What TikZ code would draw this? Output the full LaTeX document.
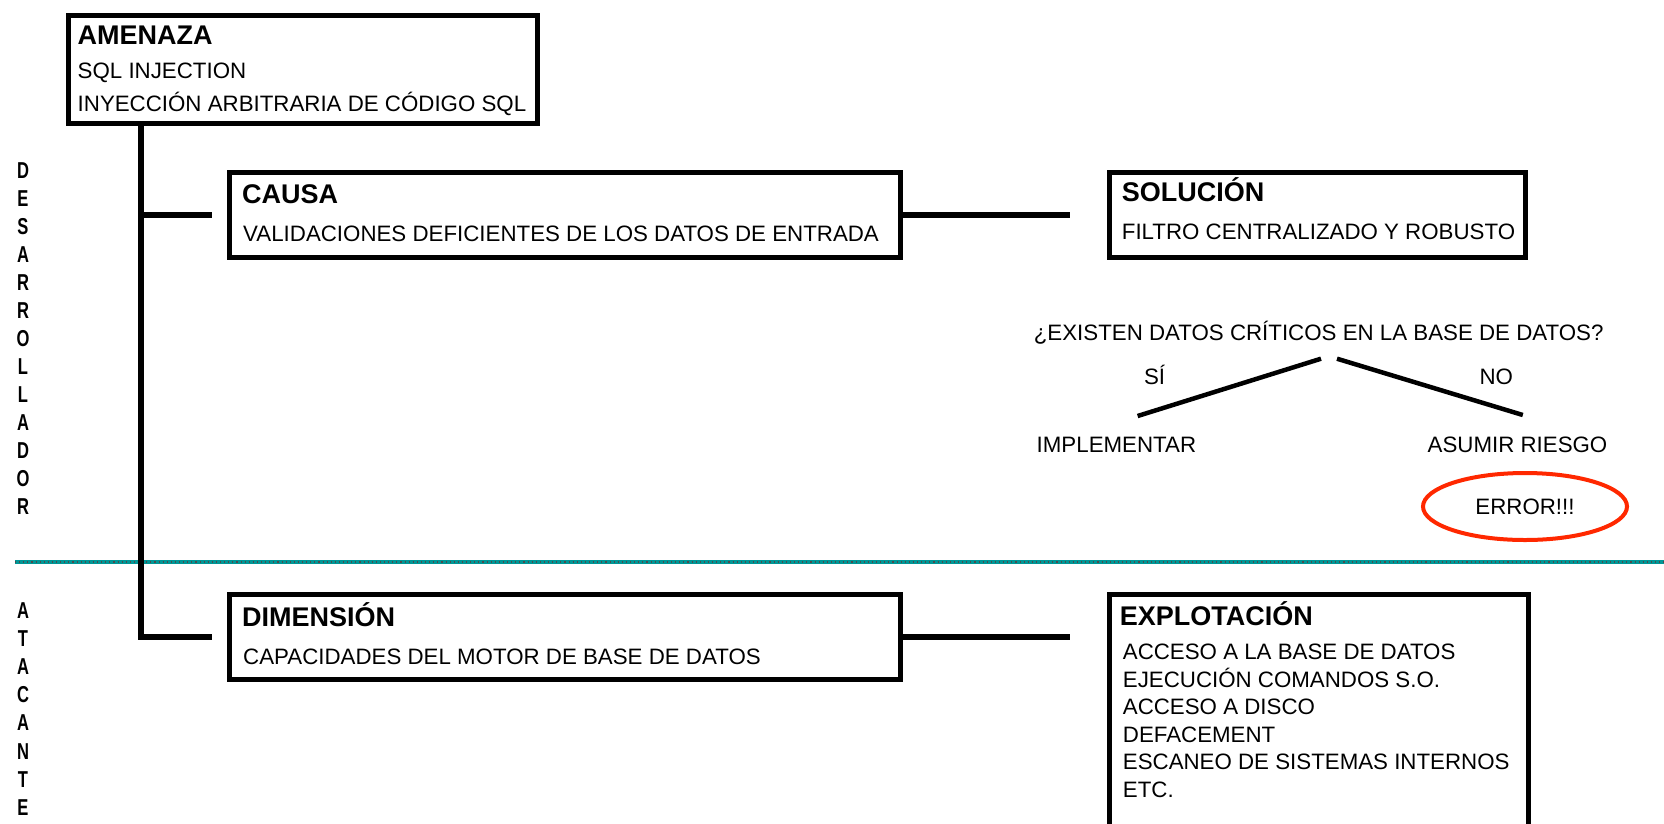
\documentclass[tikz,border=0pt]{standalone}
\usepackage{fontspec}
\setmainfont{Liberation Sans}
\usetikzlibrary{shapes.geometric}
\definecolor{tealline}{RGB}{0,150,150}
\definecolor{errred}{RGB}{255,40,0}
\newcommand{\nrw}[1]{\scalebox{0.72}[1]{#1}}
\begin{document}
\begin{tikzpicture}[x=1pt,y=-1pt,
  box/.style={draw, line width=4.5pt, anchor=north west, inner sep=0pt},
  conn/.style={line width=6.5pt},
  thin/.style={line width=4.5pt},
  ttl/.style={anchor=base west, inner sep=0pt, font=\fontsize{27}{30}\selectfont\bfseries},
  txt/.style={anchor=base west, inner sep=0pt, font=\fontsize{22.3}{26}\selectfont},
  ctxt/.style={anchor=base, inner sep=0pt, font=\fontsize{22.3}{26}\selectfont},
  vlab/.style={align=center, inner sep=0pt, font=\fontsize{23}{28.05}\selectfont\bfseries},
]
\useasboundingbox (0,0) rectangle (1664,823);

% separator
\draw[tealline, line width=3.5pt] (15,562) -- (1664,562);
\draw[black!70, line width=1.1pt, dash pattern=on 1.1pt off 3pt] (15,562) -- (1664,562);

% boxes
\node[box, minimum width=469pt, minimum height=108pt] (amenaza) at (66,13) {};
\node[box, minimum width=671pt, minimum height=85pt] (causa) at (227,170) {};
\node[box, minimum width=416pt, minimum height=85pt] (solucion) at (1107,170) {};
\node[box, minimum width=671pt, minimum height=85pt] (dimension) at (227,592) {};
\node[box, minimum width=419pt, minimum height=250pt] (explotacion) at (1107,592) {};

% box texts
\node[ttl] (t1) at (77.5,44.5) {AMENAZA};
\node[txt] (t2) at (77.5,78) {SQL INJECTION};
\node[txt] (t3) at (77.5,111) {INYECCIÓN ARBITRARIA DE CÓDIGO SQL};

\node[ttl] (t4) at (242,203.7) {CAUSA};
\node[txt] (t5) at (243,241.3) {VALIDACIONES DEFICIENTES DE LOS DATOS DE ENTRADA};

\node[ttl] (t6) at (1121.7,201.7) {SOLUCIÓN};
\node[txt] (t7) at (1121.7,239) {FILTRO CENTRALIZADO Y ROBUSTO};

\node[ttl] (t8) at (242,626) {DIMENSIÓN};
\node[txt] (t9) at (243,664.7) {CAPACIDADES DEL MOTOR DE BASE DE DATOS};

\node[ttl] (t10) at (1119.6,625) {EXPLOTACIÓN};
\node[txt] (e1) at (1122.7,659.4) {ACCESO A LA BASE DE DATOS};
\node[txt] (e2) at (1122.7,687) {EJECUCIÓN COMANDOS S.O.};
\node[txt] (e3) at (1122.7,714.6) {ACCESO A DISCO};
\node[txt] (e4) at (1122.7,742.2) {DEFACEMENT};
\node[txt] (e5) at (1122.7,769.8) {ESCANEO DE SISTEMAS INTERNOS};
\node[txt] (e6) at (1122.7,797.4) {ETC.};

% connectors
\coordinate (tk) at (141,121);
\draw[conn] (tk) |- ([xshift=-15pt]dimension.west);
\draw[conn] (tk |- causa.west) -- ([xshift=-15pt]causa.west);
\draw[conn] (causa.east) -- ([xshift=-37pt]solucion.west);
\draw[conn] (dimension.east) -- ([xshift=-37pt]explotacion.west |- dimension.east);

% decision
\node[ctxt] (q) at (1318.6,340) {¿EXISTEN DATOS CRÍTICOS EN LA BASE DE DATOS?};
\node[ctxt] (si) at (1154.6,384.5) {SÍ};
\node[ctxt] (no) at (1496.3,384.5) {NO};
\node[ctxt] (impl) at (1116.4,452.4) {IMPLEMENTAR};
\node[ctxt] (asum) at (1517.5,452.4) {ASUMIR RIESGO};
\coordinate (qa) at (1321,358.7);
\coordinate (qb) at (1337,358.7);
\coordinate (ia) at (1137.6,416);
\coordinate (aa) at (1522.8,415);
\draw[thin] (qa) -- (ia);
\draw[thin] (qb) -- (aa);

\node[ellipse, draw=errred, line width=4pt, minimum width=204pt, minimum height=67pt, inner sep=0pt,
  font=\fontsize{22.3}{26}\selectfont] (err) at (1525,506.5) {ERROR!!!};

% side labels
\node[vlab] (dev) at (23,338.5) {\nrw{D}\\\nrw{E}\\\nrw{S}\\\nrw{A}\\\nrw{R}\\\nrw{R}\\\nrw{O}\\\nrw{L}\\\nrw{L}\\\nrw{A}\\\nrw{D}\\\nrw{O}\\\nrw{R}};
\node[vlab] (att) at (23,709) {\nrw{A}\\\nrw{T}\\\nrw{A}\\\nrw{C}\\\nrw{A}\\\nrw{N}\\\nrw{T}\\\nrw{E}};
\end{tikzpicture}
\end{document}
